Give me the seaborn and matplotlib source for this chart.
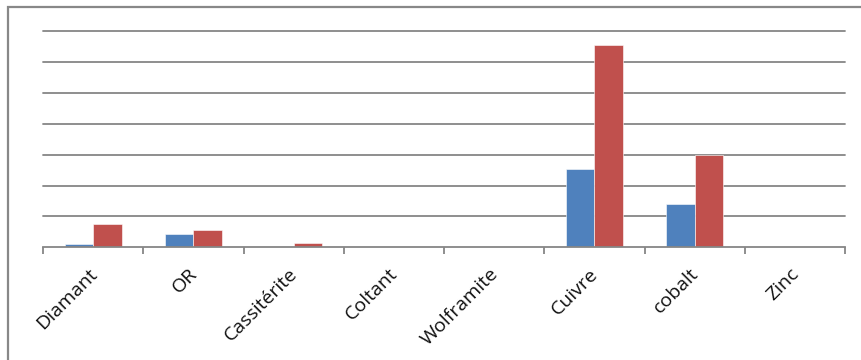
import matplotlib
matplotlib.use("Agg")
import matplotlib.pyplot as plt
from matplotlib.patches import Rectangle
from matplotlib.transforms import ScaledTranslation
import seaborn as sns
import pandas as pd
import numpy as np

categories = ["Diamant", "OR", "Cassitérite", "Coltant", "Wolframite", "Cuivre", "cobalt", "Zinc"]
serie1 = [0.10, 0.42, 0.0, 0.0, 0.0, 2.53, 1.40, 0.0]
serie2 = [0.74, 0.55, 0.13, 0.0, 0.0, 6.54, 2.99, 0.0]
series_names = ["Série 1", "Série 2"]
colors = ["#4F81BD", "#C0504D"]

df = pd.DataFrame({
    "cat": categories * 2,
    "val": serie1 + serie2,
    "serie": [series_names[0]] * len(categories) + [series_names[1]] * len(categories),
})

sns.set_theme(style="white")
plt.rcParams['font.family'] = ['Open Sans', 'DejaVu Sans']

fig = plt.figure(figsize=(8.61, 3.6), dpi=100)
ax = fig.add_axes([43 / 861, 1 - 247.3 / 360, (845 - 43) / 861, (247.3 - 31) / 360])

sns.barplot(data=df, x="cat", y="val", hue="serie", palette=colors,
            width=0.57, ax=ax, legend=False, edgecolor="white", linewidth=0.4,
            saturation=1)

ax.set_ylim(0, 7)
ax.set_xlim(-0.5, len(categories) - 0.5)
ax.set_yticks(np.arange(1, 8))
ax.yaxis.grid(True, color="#868686", linewidth=1.3)
for gl in ax.get_ygridlines():
    gl.set_clip_on(False)
ax.set_axisbelow(True)
ax.tick_params(axis="y", left=False, labelleft=False)
ax.set_xlabel("")
ax.set_ylabel("")
for s in ["top", "right", "left"]:
    ax.spines[s].set_visible(False)
ax.spines["bottom"].set_color("#868686")
ax.spines["bottom"].set_linewidth(1.3)

ax.set_xticks(np.arange(len(categories)))
ax.set_xticklabels(categories, rotation=45, ha="right", va="center",
                   rotation_mode="anchor", fontsize=14, color="#111111")
ax.set_xticks(np.arange(-0.5, len(categories)), minor=True)
ax.tick_params(axis="x", which="major", length=0, pad=0)
ax.tick_params(axis="x", which="minor", length=5, width=1.3, color="#868686", bottom=True)
offset = ScaledTranslation(1 / 100, -24 / 100, fig.dpi_scale_trans)
for lbl in ax.get_xticklabels():
    lbl.set_transform(lbl.get_transform() + offset)

frame = Rectangle((8 / 861, -0.2), 1.2, 1 - 7 / 360 + 0.2, transform=fig.transFigure,
                  fill=False, edgecolor="#888888", linewidth=1.6, clip_on=False)
fig.patches.append(frame)

fig.savefig("out.png", dpi=100)
